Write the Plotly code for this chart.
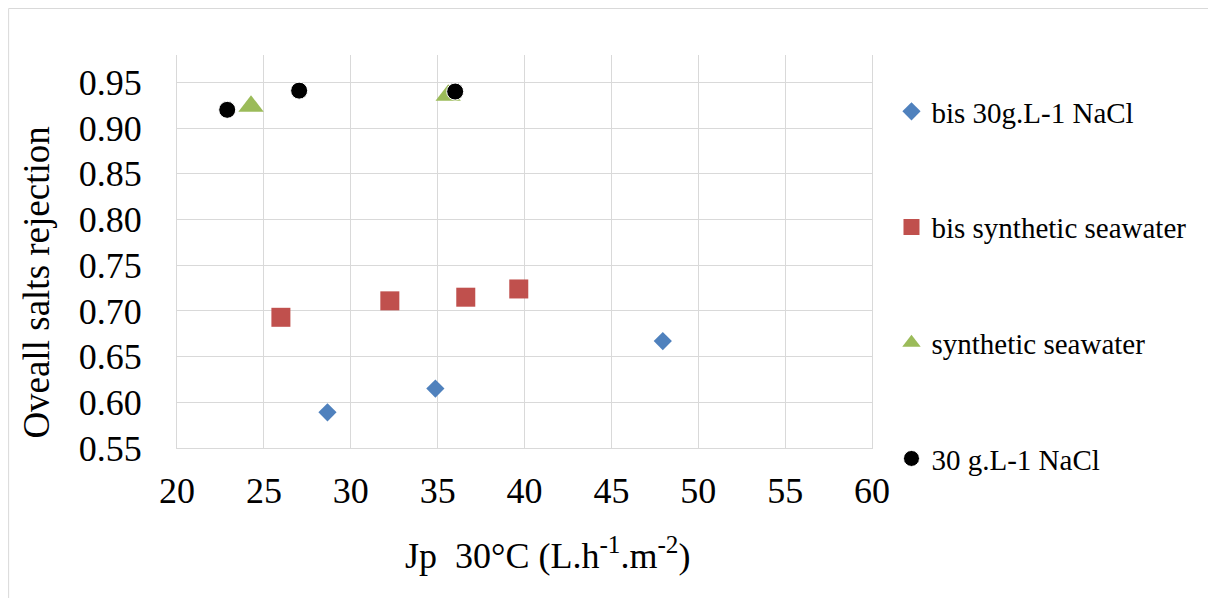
import plotly.graph_objects as go

# ---- data ----
bis_nacl_x = [28.66, 34.87, 47.96]
bis_nacl_y = [0.589, 0.615, 0.667]

bis_sw_x = [25.98, 32.25, 36.62, 39.67]
bis_sw_y = [0.693, 0.711, 0.715, 0.724]

sw_x = [24.26, 35.61]
sw_y = [0.924, 0.936]

nacl_x = [22.89, 27.03, 36.01]
nacl_y = [0.920, 0.941, 0.940]

series_names = ["bis 30g.L-1 NaCl", "bis synthetic seawater",
                "synthetic seawater", "30 g.L-1 NaCl"]

x_title = "Jp\u00a0\u00a030°C (L.h<sup>-1</sup>.m<sup>-2</sup>)"
y_title = "Oveall salts rejection"

FONT = "Liberation Serif, Times New Roman, serif"
W, H = 1216, 598
# page body has an 8px margin, so figure coords = window coords - 8
L, R, T, B = 169, 351.5, 47, 158
pw = W - L - R
ph = H - T - B

fig = go.Figure()
fig.add_trace(go.Scatter(x=bis_nacl_x, y=bis_nacl_y, mode="markers", name=series_names[0],
                         legendgroup="a",
                         marker=dict(symbol="diamond", size=14, color="#4F81BD")))
fig.add_trace(go.Scatter(x=bis_sw_x, y=bis_sw_y, mode="markers", name=series_names[1],
                         legendgroup="b",
                         marker=dict(symbol="square", size=19, color="#C0504D")))
fig.add_trace(go.Scatter(x=sw_x, y=sw_y, mode="markers", name=series_names[2],
                         legendgroup="c",
                         marker=dict(symbol="triangle-up", size=22, color="#9BBB59")))
fig.add_trace(go.Scatter(x=nacl_x, y=nacl_y, mode="markers", name=series_names[3],
                         legendgroup="d",
                         marker=dict(symbol="circle", size=17, color="#000000",
                                     line=dict(color="white", width=1))))

grid = "#d9d9d9"
fig.update_xaxes(range=[20, 60], tick0=20, dtick=5, showgrid=True, gridcolor=grid, gridwidth=1,
                 showline=True, linecolor=grid, linewidth=1, zeroline=False,
                 tickfont=dict(family=FONT, size=36, color="black"),
                 ticks="", ticklabelstandoff=11, fixedrange=True)
fig.update_yaxes(range=[0.55, 0.98], tick0=0.55, dtick=0.05, tickformat=".2f",
                 showgrid=True, gridcolor=grid, gridwidth=1,
                 showline=True, linecolor=grid, linewidth=1, mirror=True, zeroline=False,
                 tickfont=dict(family=FONT, size=36, color="black"),
                 ticks="", ticklabelstandoff=27, fixedrange=True)

fig.update_layout(
    width=W, height=H,
    margin=dict(l=L, r=R, t=T, b=B, autoexpand=False),
    paper_bgcolor="white", plot_bgcolor="white",
    font=dict(family=FONT, color="black"),
    showlegend=True,
    legend=dict(x=(884 - L) / pw, y=1 - (78 - T) / ph, xanchor="left", yanchor="top",
                font=dict(family=FONT, size=29, color="black"),
                tracegroupgap=75, bgcolor="rgba(0,0,0,0)", itemwidth=30,
                maxheight=590),
    annotations=[
        dict(text=x_title, xref="paper", yref="paper",
             x=(540 - L) / pw, y=(H - B - 545) / ph, xanchor="center", yanchor="middle",
             showarrow=False, font=dict(family=FONT, size=36, color="black")),
        dict(text=y_title, xref="paper", yref="paper", textangle=-90,
             x=(28 - L) / pw, y=1 - (274.5 - T) / ph, xanchor="center", yanchor="middle",
             showarrow=False, font=dict(family=FONT, size=37, color="black")),
    ],
    shapes=[dict(type="rect", xref="paper", yref="paper",
                 x0=(0.5 - L) / pw, x1=3, y0=-3, y1=1 + (T - 0.5) / ph,
                 line=dict(color=grid, width=1), fillcolor="rgba(0,0,0,0)", layer="below")],
)

fig.write_html("out.html")
